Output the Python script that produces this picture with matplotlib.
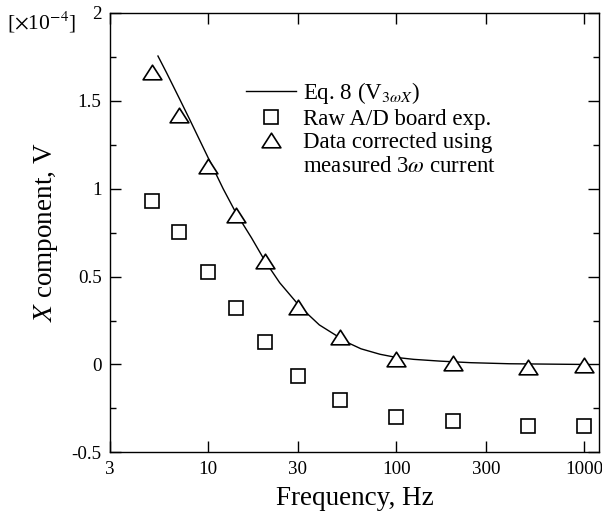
import numpy as np
import matplotlib
matplotlib.use("Agg")
import matplotlib.pyplot as plt
from matplotlib.lines import Line2D
from matplotlib.path import Path

plt.rcParams.update({
    "font.family": "serif",
    "font.serif": ["Liberation Serif", "DejaVu Serif"],
    "mathtext.fontset": "stix",
})

# ---- data (units of 1e-4 V) ----
freq_pts = [5, 7, 10, 14, 20, 30, 50, 100, 200, 500, 1000]
raw_ad = [0.93, 0.752, 0.526, 0.319, 0.129, -0.066, -0.203, -0.298, -0.322, -0.352, -0.351]
corrected = [1.666, 1.419, 1.129, 0.85, 0.59, 0.328, 0.154, 0.029, 0.01, -0.013, -0.005]

freq_eq8 = [5.4, 6, 7, 8, 10, 12, 14, 17, 20, 24, 31, 39, 55, 65, 82, 100, 124,
            171, 250, 400, 1000]
v_eq8 = [1.755, 1.66, 1.516, 1.39, 1.175, 1.0, 0.865, 0.72, 0.59, 0.465, 0.325,
         0.225, 0.125, 0.089, 0.058, 0.04, 0.029, 0.019, 0.01, 0.004, 0.0]

xticks = [3, 10, 30, 100, 300, 1000]
yticks = [-0.5, 0, 0.5, 1, 1.5, 2]
ytick_labels = ["-0.5", "0", "0.5", "1", "1.5", "2"]

# ---- draw ----
fig = plt.figure(figsize=(6.02, 5.17), dpi=100)
ax = fig.add_axes([0.1827, 0.1251, 0.8123, 0.8498])

# open triangle, a bit wider than tall
tri = Path([(-1, -0.78), (1, -0.78), (0, 0.78), (-1, -0.78)], closed=True)

ax.plot(freq_eq8, v_eq8, color="black", lw=1.0, label=r"Eq. 8 (V$_{3\omega X}$)")
ax.plot(freq_pts, raw_ad, ls="none", marker="s", ms=10.5, mfc="white",
        mec="black", mew=1.2, label="Raw A/D board exp.")
ax.plot(freq_pts, corrected, ls="none", marker=tri, ms=13.5, mfc="white",
        mec="black", mew=1.2, label="Data corrected using")

ax.set_xscale("log")
ax.set_xlim(3, 1200)
ax.set_ylim(-0.5, 2)
ax.set_xticks(xticks)
ax.set_xticklabels([str(t) for t in xticks])
ax.xaxis.set_minor_locator(matplotlib.ticker.NullLocator())
ax.set_yticks(yticks)
ax.set_yticklabels(ytick_labels)
ax.yaxis.set_minor_locator(matplotlib.ticker.MultipleLocator(0.25))

ax.tick_params(which="both", direction="in", top=True, right=True,
               labelsize=13.7, width=1.0)
ax.tick_params(which="major", length=8, pad=6)
ax.tick_params(which="minor", length=4.5)
for s in ax.spines.values():
    s.set_linewidth(1.0)

ax.set_xlabel("Frequency, Hz", fontsize=19.5, labelpad=6)
ax.set_ylabel(r"$X$ component, V", fontsize=19.5, labelpad=8)

fig.text(0.012, 0.956, r"[$\times$10$^{-4}$]", fontsize=15.5, ha="left", va="center")

handles, labels = ax.get_legend_handles_labels()
handles.append(Line2D([], [], ls="none"))
labels.append(r"measured 3$\omega$ current")
ax.legend(handles, labels, loc="upper left", bbox_to_anchor=(0.278, 0.848),
          frameon=False, fontsize=16.5, handlelength=2.2, handletextpad=0.3,
          labelspacing=0.12, borderaxespad=0, borderpad=0)

fig.savefig("out.png", dpi=100, facecolor="white")
